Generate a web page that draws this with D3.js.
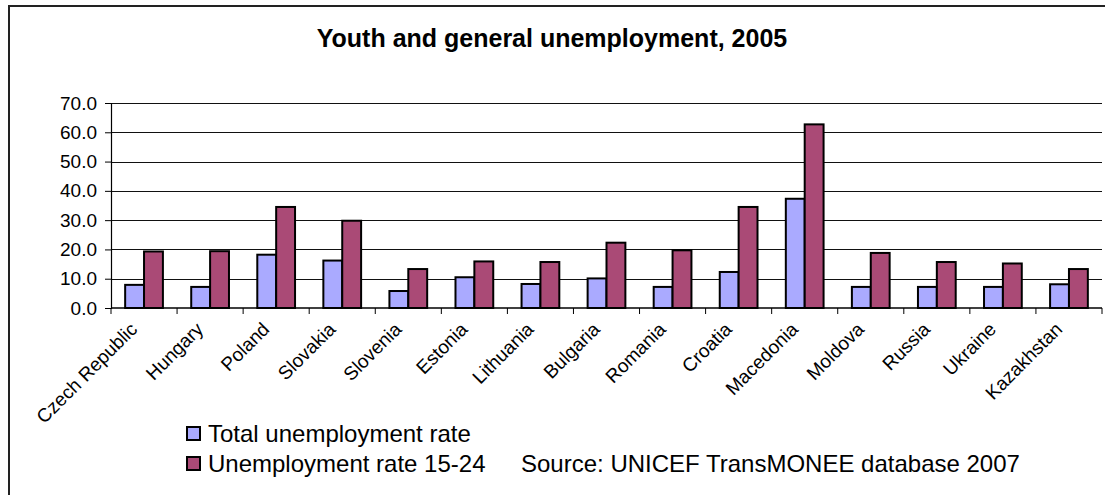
<!DOCTYPE html>
<html>
<head>
<meta charset="utf-8">
<script src="https://cdn.jsdelivr.net/npm/d3@7"></script>
<style>
	html, body { margin: 0; padding: 0; background: #fff; }
	svg { display: block; font-family: "Liberation Sans", Arial, sans-serif; }
</style>
</head>
<body>
<div class="svg-container"></div>
<script>
// data
var countries = [ "Czech Republic", "Hungary", "Poland", "Slovakia", "Slovenia", "Estonia", "Lithuania",
	"Bulgaria", "Romania", "Croatia", "Macedonia", "Moldova", "Russia", "Ukraine", "Kazakhstan" ];
var total_rate = [ 7.9, 7.2, 18.2, 16.2, 5.8, 10.5, 8.2, 10.1, 7.2, 12.3, 37.3, 7.2, 7.2, 7.2, 8.1 ];
var youth_rate = [ 19.3, 19.4, 34.5, 29.8, 13.3, 15.9, 15.7, 22.3, 19.7, 34.5, 62.7, 18.8, 15.7, 15.2, 13.3 ];
var y_ticks = [ 0, 10, 20, 30, 40, 50, 60, 70 ];
var series_names = [ "Total unemployment rate", "Unemployment rate 15-24" ];
var chart_title = "Youth and general unemployment, 2005";
var source_note = "Source: UNICEF TransMONEE database 2007";

(function () {

	"use strict";

	// colors
	var colors 			= [ "#aaaaff", "#aa4a76" ];
	var canvas_width 	= 1105;
	var canvas_height 	= 495;

	var plot = { "left": 111, "right": 1102, "top": 103, "bottom": 308 };

	var svg = d3.select(".svg-container").append("svg")
		.attr("width", canvas_width)
		.attr("height", canvas_height);

	// outer frame, runs off the right and bottom edge
	svg.append("rect")
		.attr("x", 9).attr("y", 6)
		.attr("width", canvas_width + 20).attr("height", canvas_height + 20)
		.attr("fill", "#fff")
		.attr("stroke", "#222")
		.attr("stroke-width", 2);

	svg.append("text")
		.attr("x", 552).attr("y", 47)
		.attr("text-anchor", "middle")
		.attr("font-size", 25)
		.attr("font-weight", "bold")
		.text(chart_title);

	var x = d3.scaleBand()
		.domain(countries)
		.range([ plot.left, plot.right ]);

	var xs = d3.scaleBand()
		.domain([ 0, 1 ])
		.range([ 0, x.bandwidth() ])
		.paddingOuter(0.75);

	var y = d3.scaleLinear()
		.domain([ 0, 70 ])
		.range([ plot.bottom, plot.top ]);

	// gridlines
	svg.append("g")
		.selectAll("line")
		.data(y_ticks.slice(1))
		.enter()
		.append("line")
		.attr("x1", plot.left).attr("x2", plot.right)
		.attr("y1", function ( d ) { return Math.round( y(d) ) + .5; })
		.attr("y2", function ( d ) { return Math.round( y(d) ) + .5; })
		.attr("stroke", "#111")
		.attr("stroke-width", 1.2);

	// bars
	var groups = svg.append("g")
		.selectAll(".country")
		.data(countries)
		.enter()
		.append("g")
		.attr("class", "country")
		.attr("transform", function ( d ) { return "translate(" + x(d) + ",0)"; });

	groups.selectAll("rect")
		.data(function ( d, i ) { return [ total_rate[i], youth_rate[i] ]; })
		.enter()
		.append("rect")
		.attr("x", function ( d, i ) { return xs(i); })
		.attr("y", function ( d ) { return y(d); })
		.attr("width", xs.bandwidth())
		.attr("height", function ( d ) { return y(0) - y(d); })
		.attr("fill", function ( d, i ) { return colors[i]; })
		.attr("stroke", "#000")
		.attr("stroke-width", 2);

	// y axis
	var y_axis = svg.append("g")
		.attr("transform", "translate(" + plot.left + ",0)")
		.call( d3.axisLeft(y).tickValues(y_ticks).tickSize(6).tickPadding(8).tickFormat(d3.format(".1f")) );

	y_axis.select(".domain").attr("stroke", "#000").attr("stroke-width", 1.2);
	y_axis.selectAll(".tick line").attr("stroke", "#000");
	y_axis.selectAll("text")
		.attr("font-size", 19)
		.attr("font-family", "Liberation Sans, Arial, sans-serif")
		.attr("fill", "#000");

	// x axis with ticks between the categories
	var bounds = countries.map(function ( d ) { return x(d); }).concat([ plot.right ]);

	svg.append("line")
		.attr("x1", plot.left).attr("x2", plot.right)
		.attr("y1", plot.bottom).attr("y2", plot.bottom)
		.attr("stroke", "#000")
		.attr("stroke-width", 1.5);

	svg.append("g")
		.selectAll("line")
		.data(bounds)
		.enter()
		.append("line")
		.attr("x1", function ( d ) { return d; })
		.attr("x2", function ( d ) { return d; })
		.attr("y1", plot.bottom).attr("y2", plot.bottom + 6)
		.attr("stroke", "#000");

	svg.append("g")
		.selectAll("text")
		.data(countries)
		.enter()
		.append("text")
		.attr("transform", function ( d ) {
			return "translate(" + ( x(d) + x.bandwidth() / 2 - 15 ) + "," + ( plot.bottom + 13 ) + ") rotate(-45)";
		})
		.attr("text-anchor", "end")
		.attr("dy", "0.7em")
		.attr("font-size", 19)
		.text(function ( d ) { return d; });

	// legend
	var legend = svg.append("g")
		.selectAll(".legend")
		.data(series_names)
		.enter()
		.append("g")
		.attr("class", "legend")
		.attr("transform", function ( d, i ) { return "translate(187," + ( 427 + i * 30 ) + ")"; });

	legend.append("rect")
		.attr("width", 13).attr("height", 13)
		.attr("fill", function ( d, i ) { return colors[i]; })
		.attr("stroke", "#000")
		.attr("stroke-width", 2);

	legend.append("text")
		.attr("x", 21).attr("y", 15)
		.attr("font-size", 24)
		.text(function ( d ) { return d; });

	svg.append("text")
		.attr("x", 521).attr("y", 472)
		.attr("font-size", 24)
		.text(source_note);

})();
</script>
</body>
</html>
